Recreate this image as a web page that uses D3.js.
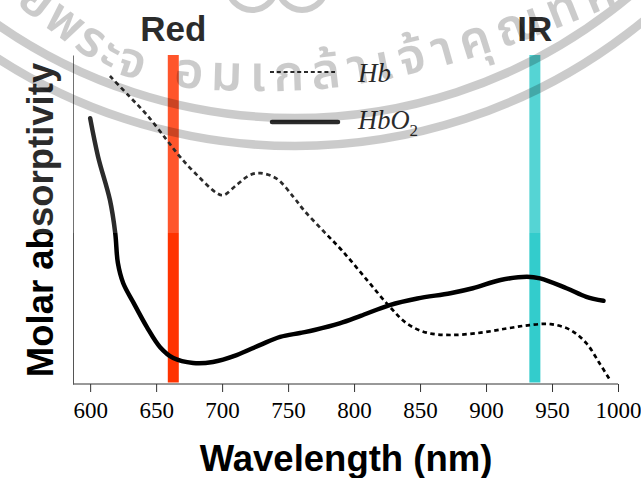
<!DOCTYPE html>
<html>
<head>
<meta charset="utf-8">
<script src="https://cdn.jsdelivr.net/npm/d3@7/dist/d3.min.js"></script>
<style>
  html, body { margin: 0; padding: 0; background: #fff; }
  svg { display: block; }
</style>
</head>
<body>
<svg id="chart" width="641" height="478"></svg>
<script>
// Absorption spectra of deoxy- (Hb) and oxy-haemoglobin (HbO2), arbitrary units
const hbWavelength = [615, 630, 643, 658, 668, 681, 696, 701, 711, 721, 729, 741, 754, 762, 776, 791, 810, 827, 840, 855, 873, 896, 916, 933, 949, 964, 976, 986, 994];
const hbValue      = [93.6, 87.3, 81.8, 74.2, 69.1, 63.5, 58.0, 57.4, 60.5, 63.5, 64.1, 62.5, 56.9, 52.8, 46.8, 40.5, 31.5, 23.5, 18.4, 15.6, 14.9, 15.6, 16.9, 17.9, 18.2, 16.4, 12.4, 6.3, 1.2];

const hbo2Wavelength = [600, 606, 615, 619, 621, 625, 633, 643, 653, 663, 678, 693, 711, 729, 744, 759, 770, 789, 805, 827, 848, 873, 890, 911, 931, 941, 961, 976, 989];
const hbo2Value      = [80.8, 69.1, 55.9, 45.9, 36.8, 30.7, 24.6, 17.3, 11.2, 7.9, 6.4, 6.7, 8.8, 11.9, 14.3, 15.5, 16.4, 18.4, 20.7, 24.0, 26.0, 27.6, 29.1, 31.6, 32.6, 32.1, 29.1, 26.5, 25.3];

// LED emission bands marked on the spectrum
const bandNames = ["Red", "IR"];
const bandWavelength = [663, 937];
const bandColors = ["#ff3300", "#33cccc"];

const tickValues = [600, 650, 700, 750, 800, 850, 900, 950, 1000];
const seriesNames = ["Hb", "HbO"];

const svg = d3.select("#chart");

const x = d3.scaleLinear().domain([587, 1000]).range([73, 618]);
const y = d3.scaleLinear().domain([0, 100]).range([384, 55]);

const hbData = hbWavelength.map((w, i) => [w, hbValue[i]]);
const hbo2Data = hbo2Wavelength.map((w, i) => [w, hbo2Value[i]]);

const line = d3.line()
  .x(d => x(d[0]))
  .y(d => y(d[1]))
  .curve(d3.curveCatmullRom.alpha(0.5));

// LED bands
svg.append("g").selectAll("rect")
  .data(bandWavelength)
  .join("rect")
  .attr("x", d => x(d) - 5.5)
  .attr("width", 11)
  .attr("y", y(100))
  .attr("height", y(0) - y(100) - 1.5)
  .attr("fill", (d, i) => bandColors[i]);

svg.append("g").selectAll("text")
  .data(bandNames)
  .join("text")
  .attr("x", (d, i) => x(bandWavelength[i]))
  .attr("y", 41)
  .attr("text-anchor", "middle")
  .attr("font-family", "Liberation Sans, Arial, sans-serif")
  .attr("font-weight", "bold")
  .attr("font-size", 35)
  .attr("fill", "#000")
  .text(d => d);

// spectra
svg.append("path")
  .datum(hbData)
  .attr("d", line)
  .attr("fill", "none")
  .attr("stroke", "#000")
  .attr("stroke-width", 2.7)
  .attr("stroke-dasharray", "4.5,3.5");

svg.append("path")
  .datum(hbo2Data)
  .attr("d", line)
  .attr("fill", "none")
  .attr("stroke", "#000")
  .attr("stroke-width", 4.5)
  .attr("stroke-linecap", "round");

// axes
const xAxis = d3.axisBottom(x)
  .tickValues(tickValues)
  .tickSize(8)
  .tickSizeOuter(0)
  .tickPadding(10)
  .tickFormat(d3.format("d"));

const gx = svg.append("g")
  .attr("transform", `translate(0,${y(0)})`)
  .call(xAxis);
gx.select(".domain").remove();
gx.append("line")
  .attr("x1", x.range()[0]).attr("x2", x.range()[1])
  .attr("stroke", "#333").attr("stroke-width", 1);
gx.selectAll(".tick line").attr("stroke", "#333");
gx.selectAll(".tick text")
  .attr("font-family", "Liberation Serif, Times New Roman, serif")
  .attr("font-size", 23)
  .attr("fill", "#000");

const gy = svg.append("g")
  .attr("transform", `translate(${x.range()[0]},0)`)
  .call(d3.axisLeft(y).tickValues([]).tickSizeOuter(0));
gy.select(".domain").attr("stroke", "#555").attr("stroke-width", 1);

// axis titles
svg.append("text")
  .attr("x", 346)
  .attr("y", 471)
  .attr("text-anchor", "middle")
  .attr("font-family", "Liberation Sans, Arial, sans-serif")
  .attr("font-weight", "bold")
  .attr("font-size", 36.5)
  .text("Wavelength (nm)");

svg.append("text")
  .attr("transform", "translate(53,220) rotate(-90)")
  .attr("text-anchor", "middle")
  .attr("font-family", "Liberation Sans, Arial, sans-serif")
  .attr("font-weight", "bold")
  .attr("font-size", 36.5)
  .text("Molar absorptivity");

// legend
const legend = svg.append("g");
legend.append("line")
  .attr("x1", 270).attr("x2", 335).attr("y1", 72).attr("y2", 72)
  .attr("stroke", "#000").attr("stroke-width", 2.2).attr("stroke-dasharray", "4,2.8");
legend.append("line")
  .attr("x1", 272).attr("x2", 338).attr("y1", 122).attr("y2", 122)
  .attr("stroke", "#000").attr("stroke-width", 4.5).attr("stroke-linecap", "round");

const legendFont = "Liberation Serif, Times New Roman, serif";
legend.append("text")
  .attr("x", 358).attr("y", 82)
  .attr("font-family", legendFont).attr("font-style", "italic").attr("font-size", 27)
  .text(seriesNames[0]);
const t2 = legend.append("text")
  .attr("x", 358).attr("y", 129)
  .attr("font-family", legendFont).attr("font-style", "italic").attr("font-size", 26.5)
  .text(seriesNames[1]);
t2.append("tspan")
  .attr("dy", 7).attr("font-size", 17).attr("font-style", "normal")
  .text("2");

// light haze over the upper part of the page
svg.append("rect")
  .attr("x", 0).attr("y", 0).attr("width", 641).attr("height", 233)
  .attr("fill", "#fff").attr("opacity", 0.17);

// institutional seal watermark
const wm = svg.append("g").attr("fill", "#000").attr("opacity", 0.2);
const cx = 295, cy = -402;
[520, 548].forEach(r => {
  const p = d3.path();
  p.arc(cx, cy, r, Math.PI / 2 + 1.3, Math.PI / 2 - 1.3, true);
  wm.append("path").attr("d", p.toString())
    .attr("fill", "none").attr("stroke", "#000").attr("stroke-width", 8.5);
});
// baseline of the seal lettering
const sealBaseline = [[-20, -25], [30, 15], [88, 57], [130, 78], [190, 88], [250, 91], [330, 88], [420, 72], [490, 52], [560, 27], [650, -10]];
svg.append("defs").append("path")
  .attr("id", "sealArc")
  .attr("d", d3.line().curve(d3.curveCatmullRom.alpha(0.5))(sealBaseline));
const sealText = wm.append("text")
  .attr("font-family", "Noto Sans Thai, Noto Sans Thai UI, Loma, Garuda, Tlwg Typo, sans-serif")
  .attr("font-size", 50)
  .attr("font-weight", 600)
  .append("textPath")
  .attr("href", "#sealArc")
  .attr("startOffset", 45);
sealText.append("tspan").attr("letter-spacing", 3).text("ยีพระจ");
sealText.append("tspan").attr("dx", 30).attr("letter-spacing", 8).text("อมเกล้าเจ้าคุณทหาร");
[[252, -14], [302, -14]].forEach(c => {
  wm.append("circle").attr("cx", c[0]).attr("cy", c[1]).attr("r", 24)
    .attr("fill", "none").attr("stroke", "#000").attr("stroke-width", 6);
});
</script>
</body>
</html>
